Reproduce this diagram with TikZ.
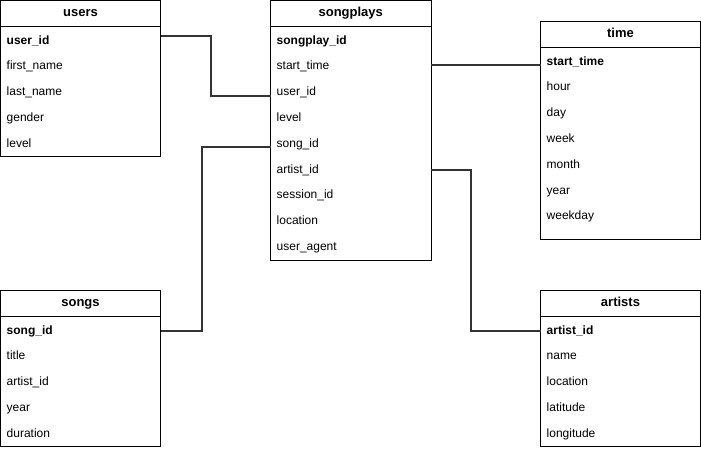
\documentclass[tikz,border=0pt]{standalone}
\usepackage{fontspec}
\setmainfont{Liberation Sans}
\usetikzlibrary{calc}
\tikzset{
  tblbox/.style={draw=black, line width=1pt, anchor=north west, inner sep=0pt, outer sep=0pt, fill=white},
  tblline/.style={draw=black, line width=1pt},
  hdr/.style={font=\bfseries\fontsize{13}{15}\selectfont, inner sep=0pt, text height=9.5pt, text depth=3pt},
  rowtxt/.style={font=\fontsize{12}{14}\selectfont, anchor=west, inner sep=0pt, text height=8.7pt, text depth=2.6pt},
  keytxt/.style={rowtxt, font=\bfseries\fontsize{12}{14}\selectfont},
  link/.style={draw=black!80, line width=2pt}
}
\newcommand\dbtable[8]{%
  \node[tblbox, minimum width=#4pt, minimum height=#5pt] (#1) at (#2,#3) {};
  \node[hdr] (#1-title) at (#2+#4/2,#3+13) {#6};
  \draw[tblline] (#2,#3+26) -- (#2+#4,#3+26);
  \node[keytxt] (#1-1) at (#2+6,#3+40.5) {#7};
  \foreach \t [count=\i from 2] in {#8}
    \node[rowtxt] (#1-\i) at (#2+6,#3+40.5+\i*25.8-25.8) {\t};
}
\begin{document}
\begin{tikzpicture}[x=1pt,y=-1pt]
\useasboundingbox (0,0) rectangle (701,450);
\dbtable{users}{0.5}{0.5}{160}{155.5}{users}{user\_id}{first\_name,last\_name,gender,level}
\dbtable{songplays}{270.5}{0.5}{160.5}{260}{songplays}{songplay\_id}{start\_time,user\_id,level,song\_id,artist\_id,session\_id,location,user\_agent}
\dbtable{time}{540.5}{21.5}{160}{217.5}{time}{start\_time}{hour,day,week,month,year,weekday}
\dbtable{songs}{0.5}{290.5}{160}{155.5}{songs}{song\_id}{title,artist\_id,year,duration}
\dbtable{artists}{540.5}{290.5}{160}{155.5}{artists}{artist\_id}{name,location,latitude,longitude}
% connectors
\coordinate (u1) at ($(users.east |- users-1)+(0,-5.5)$);
\coordinate (sp3) at ($(songplays.west |- songplays-3)+(0,3)$);
\draw[link] (u1) -- ++(50.5,0) |- (sp3);
\coordinate (sp5) at ($(songplays.west |- songplays-5)+(0,2.5)$);
\draw[link] (sp5) -- ++(-69,0) |- (songs.east |- songs-1);
\coordinate (sp2) at ($(songplays.east |- songplays-2)+(0,-1.5)$);
\draw[link] (sp2) -- (time.west |- sp2);
\draw[link] (songplays.east |- songplays-6) -- ++(40,0) |- (artists.west |- artists-1);
\end{tikzpicture}
\end{document}
